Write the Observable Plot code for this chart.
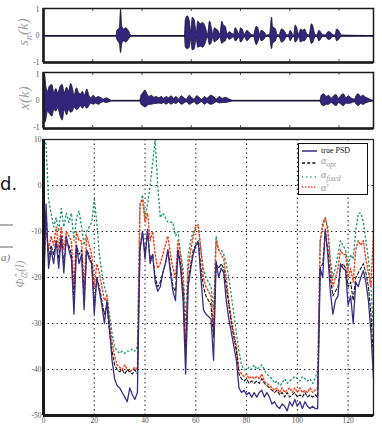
<!DOCTYPE html>
<html><head><meta charset="utf-8">
<script src="https://cdn.jsdelivr.net/npm/d3@7"></script>
<script src="https://cdn.jsdelivr.net/npm/@observablehq/plot@0.6"></script>
<style>
html,body{margin:0;padding:0;background:#fff;}
#wrap{position:relative;width:382px;height:424px;overflow:hidden;font-family:"Liberation Serif","DejaVu Serif",serif;}
.p{position:absolute;left:0;}
.rot{position:absolute;transform:translate(-50%,-50%) rotate(-90deg);white-space:nowrap;color:#a0a0a0;font-style:italic;font-family:"Liberation Serif","DejaVu Serif",serif;}
.abs{position:absolute;white-space:nowrap;}
#legend{position:absolute;left:298px;top:143px;width:68px;height:50px;border:1.6px solid #111;background:#fff;}
#legend .t{position:absolute;left:22px;font-size:8px;color:#111;}
#legend .a{position:absolute;left:22px;font-size:10px;color:#9a9a9a;font-style:italic;}
#legend .a sub{font-size:7.5px;}
</style></head><body><div id="wrap"></div>
<script>
// ---------- data ----------
// lag axis of the PSD panel
const lags = d3.range(0, 131);
const xTicks = [0, 20, 40, 60, 80, 100, 120];
const yTicks = [10, 0, -10, -20, -30, -40, -50];
const xGrid = [20, 40, 60, 80, 100, 120];
const yGrid = [0, -10, -20, -30, -40];
const waveTicks = [10, 20, 30, 40, 50, 60];
const waveYTicks = [-1, 0, 1];

// true PSD
const truePSD = [-25,-4,-18,-14,-17,-12,-18,-11,-19,-11,-14,-16,-28,-13,-17,-15,-27,-14,-16,-17,
  -28,-20,-23,-26,-30,-25,-31,-38,-42,-43.5,-44,-45,-46,-47,-44,-45.5,-46.5,-45,-14,-10,
  -16,-9.5,-17,-15,-21,-23,-22,-19,-17,-14,-19,-23,-25,-14,-18,-25,-41,-22,-18,-15,
  -13,-12.5,-20,-27,-28,-28.5,-29,-38,-16.5,-20,-18,-19,-25,-29,-32,-35,-38,-44,-45,-44.5,
  -45.5,-45,-46,-45,-46,-45,-44.5,-46,-45,-46,-47.5,-47,-48,-48.5,-47.5,-48,-49,-47,-48,-46.5,
  -48,-47,-48.5,-47,-48,-48.5,-48,-48.5,-48.5,-18,-20,-9.5,-15,-23,-28,-25,-24,-17,-18,-18.5,
  -26,-24,-30,-21,-22,-20,-18.5,-21,-25,-32,-42];
// alpha_opt
const alphaOpt = [-22,-6,-16,-13,-15,-12,-16,-11,-17,-12,-13,-15,-25,-13,-15,-14,-25,-14,-15,-17,
  -26,-20,-22,-25,-28,-26,-32,-36,-39,-40,-40.5,-40,-41,-40,-40.5,-41,-40,-41,-14,-10,
  -15,-10,-16,-15,-20,-22,-21,-19,-17,-14,-18,-22,-23,-14,-17,-23,-37,-21,-17,-14,
  -13,-12,-18,-22,-24,-25,-26,-33,-17,-18,-17,-18,-22,-26,-30,-33,-36,-41,-42,-42.5,
  -42,-43,-42.5,-43,-42.5,-43,-42,-43,-43.5,-44,-44.5,-45,-44.5,-45.5,-45,-46,-45,-46,-45.5,-45,
  -46,-45.5,-46,-45,-46,-45.5,-46,-45.5,-46,-18,-17,-10,-14,-20,-24,-23,-22,-18,-17,-18,
  -22,-21,-25,-20,-19,-18,-17,-19,-22,-28,-38];
// alpha_fixed
const alphaFixed = [10,9,-3,-6,-9,-7,-10,-5,-9,-6,-8,-6,-12,-7,-5.5,-9,-13,-10,-9,-8,
  -3,-8,-15,-19,-22,-24,-28,-32,-35,-36,-36.5,-36,-36.5,-36,-36,-35.5,-36,-35,-5,-2,
  -7,-4,0,5,10,0,-7,-6,-7,-8,-8,-8,-11,-10,-15,-18,-30,-15,-12,-10,
  -9,-9,-14,-18,-20,-21,-22,-27,-11,-14,-14,-15,-17,-20,-24,-28,-32,-36,-39,-40,
  -40,-39.5,-40,-39,-40,-39.5,-39,-40,-41,-41.5,-42,-43,-42.5,-43.5,-43,-42,-43,-42.5,-42,-41.5,
  -42,-42.5,-41.5,-42,-42.5,-42,-43,-42,-40,-12,-8,-7,-9,-16,-20,-18,-15,-12,-13,-14,
  -18,-15,-16,-10,-6,-6,-8,-12,-16,-22,-32];
// alpha'
const alphaPrime = [-10,-10,-14,-11,-13,-9,-14,-9,-14,-10,-11,-12,-22,-10,-12,-12,-22,-11,-13,-15,
  -22,-17,-19,-22,-25,-24,-30,-34,-37,-39,-39.5,-40,-39,-40,-40.5,-40,-39.5,-40,-4,-3,
  -8,-6,-12,-10,-15,-18,-17,-15,-13,-11,-15,-18,-20,-12,-15,-20,-35,-18,-14,-11,
  -9,-8.5,-14,-20,-22,-23,-24,-31,-12,-14,-15,-16,-20,-25,-29,-32,-35,-40,-41,-41.5,
  -41,-42,-41.5,-42,-41.5,-42,-41,-42.5,-43,-43.5,-44,-44.5,-44,-45,-44,-45,-44.5,-44,-45,-44,
  -45,-44,-45,-44.5,-45,-44,-45,-44.5,-44,-12,-9,-7,-10,-17,-22,-20,-18,-14,-15,-15,
  -20,-18,-21,-14,-12,-13,-12,-16,-19,-22,-10];

// s_n(k) envelope (sample index in 10^3, upper and lower amplitude)
const snK  = [0,14.8,15.0,15.5,15.75,16.0,16.4,16.8,17.3,17.9,28.7,28.9,29.3,29.7,30.0,30.3,30.7,31.1,31.4,31.9,32.4,32.9,33.4,33.8,34.2,34.5,34.8,35.1,35.5,35.9,36.3,36.6,37.0,37.4,37.8,38.2,38.7,39.0,39.4,39.8,40.1,40.4,40.9,41.4,41.7,42.2,42.7,43.3,43.6,44.0,44.3,44.8,45.4,46.0,46.4,46.6,46.9,47.2,47.5,47.9,48.4,48.9,49.4,49.8,50.2,50.5,50.9,51.2,51.5,51.9,52.3,52.7,53.1,53.6,54.0,54.5,54.8,55.2,55.6,56.0,56.3,56.7,57.3,57.9,58.4,58.9,59.3,59.6,60.0,60.6,67];
const snUp = [0,0,0.2,0.3,1.0,0.35,0.25,0.3,0.2,0,0,0.6,0.75,0.55,0.15,0.7,0.6,0.1,0.55,0.45,0.5,0.35,0.05,0.55,0.3,0.05,0.3,0.25,0.2,0.05,0.55,0.4,0.35,0.05,0.15,0.1,0.05,0.3,0.2,0.05,0.3,0.25,0.05,0.2,0.15,0.05,0.02,0.35,0.3,0.05,0.2,0.15,0.02,0.05,0.7,0.35,0.3,0.25,0.05,0.02,0.25,0.2,0.05,0.02,0.2,0.1,0.02,0.4,0.3,0.05,0.25,0.2,0.25,0.05,0.02,0.45,0.35,0.05,0.02,0.2,0.15,0.05,0.02,0.15,0.12,0.03,0.02,0.25,0.2,0.02,0];
const snLo = [0,0,-0.15,-0.3,-0.65,-0.3,-0.2,-0.25,-0.15,0,0,-0.45,-0.5,-0.45,-0.1,-0.55,-0.5,-0.1,-0.45,-0.4,-0.45,-0.3,-0.05,-0.35,-0.25,-0.05,-0.25,-0.2,-0.15,-0.05,-0.3,-0.25,-0.2,-0.05,-0.15,-0.1,-0.05,-0.2,-0.15,-0.05,-0.25,-0.2,-0.05,-0.2,-0.15,-0.05,-0.02,-0.35,-0.25,-0.05,-0.2,-0.15,-0.02,-0.05,-0.5,-0.3,-0.25,-0.2,-0.05,-0.02,-0.25,-0.2,-0.05,-0.02,-0.2,-0.1,-0.02,-0.25,-0.2,-0.05,-0.25,-0.2,-0.2,-0.05,-0.02,-0.3,-0.25,-0.05,-0.02,-0.2,-0.15,-0.05,-0.02,-0.15,-0.12,-0.03,-0.02,-0.2,-0.15,-0.02,0];

// x(k) envelope
const xkK  = [0,0.1,0.3,0.6,0.9,1.3,1.8,2.2,2.6,3.0,3.5,3.9,4.3,4.8,5.2,5.6,6.0,6.3,6.8,7.2,7.6,8.0,8.4,8.9,9.3,9.7,10.2,10.7,11.2,11.8,12.3,12.8,13.4,13.9,
  19.6,19.9,20.3,20.7,21.1,21.5,22.0,22.5,23.0,23.5,24.0,24.5,25.0,25.5,26.0,26.5,27.0,27.5,28.1,28.6,29.1,29.7,30.2,30.7,31.2,31.7,32.2,32.8,33.3,34.0,34.6,35.2,35.8,36.4,37.0,37.8,38.6,
  56.2,56.5,57.0,57.5,58.0,58.5,59.0,59.5,60.0,60.5,61.0,61.5,62.0,62.5,63.2,63.6,64.0,64.5,65.0,65.5,66.0,66.5,67];
const xkUp = [0,0.9,1.0,0.5,0.35,0.55,0.6,0.3,0.45,0.3,0.55,0.6,0.3,0.5,0.35,0.65,0.45,0.2,0.48,0.3,0.25,0.35,0.2,0.43,0.2,0.1,0.2,0.1,0.15,0.1,0.05,0.1,0.05,0,
  0,0.2,0.3,0.4,0.25,0.15,0.2,0.12,0.15,0.1,0.15,0.08,0.15,0.1,0.18,0.08,0.15,0.05,0.18,0.1,0.05,0.2,0.1,0.05,0.18,0.12,0.05,0.15,0.08,0.2,0.15,0.05,0.15,0.08,0.12,0.05,0,
  0,0.2,0.25,0.15,0.2,0.08,0.18,0.22,0.08,0.2,0.25,0.1,0.18,0.1,0.05,0.2,0.25,0.15,0.2,0.12,0.08,0.03,0];
const xkLo = [0,-0.6,-0.85,-0.7,-0.4,-0.5,-0.6,-0.35,-0.4,-0.3,-0.6,-0.75,-0.35,-0.55,-0.35,-0.45,-0.4,-0.25,-0.35,-0.3,-0.2,-0.3,-0.2,-0.3,-0.2,-0.1,-0.15,-0.1,-0.15,-0.08,-0.05,-0.08,-0.05,0,
  0,-0.15,-0.2,-0.25,-0.2,-0.15,-0.15,-0.12,-0.12,-0.1,-0.12,-0.08,-0.15,-0.08,-0.15,-0.08,-0.12,-0.05,-0.15,-0.1,-0.05,-0.15,-0.1,-0.05,-0.15,-0.1,-0.05,-0.15,-0.08,-0.15,-0.12,-0.05,-0.1,-0.08,-0.08,-0.05,0,
  0,-0.15,-0.2,-0.15,-0.15,-0.08,-0.15,-0.2,-0.08,-0.15,-0.2,-0.1,-0.12,-0.1,-0.05,-0.15,-0.2,-0.12,-0.15,-0.1,-0.06,-0.03,0];

// ---------- drawing ----------
const wrap = document.getElementById("wrap");
const baseStyle = {fontFamily:"Liberation Serif, DejaVu Serif, serif", fontSize:"7.5px", color:"#555", background:"transparent", overflow:"visible"};

function place(el, top) { el.classList.add("p"); el.style.top = top + "px"; wrap.appendChild(el); }

function wavePlot(k, up, lo, yDomain, mt, mb) {
  const rows = k.map((kk, i) => ({k: kk, up: up[i], lo: lo[i]}));
  const H = 70, inner = H - mt - mb;
  return Plot.plot({
    width: 382, height: H, marginLeft: 43, marginRight: 9, marginTop: mt, marginBottom: mb,
    style: baseStyle,
    x: {domain: [0, 67], axis: null},
    y: {domain: yDomain, ticks: waveYTicks, tickSize: 0, tickPadding: 4, tickFormat: d => String(d), label: null},
    marks: [
      Plot.ruleY([0], {stroke: "#1b1340", strokeWidth: 1.3}),
      Plot.areaY(rows, {x: "k", y1: "lo", y2: "up", fill: "#33267a", stroke: "#15122e", strokeWidth: 0.8, curve: "monotone-x"}),
      Plot.ruleX(waveTicks, {stroke: "#333", strokeWidth: 0.8, insetBottom: inner - 3}),
      Plot.ruleX(waveTicks, {stroke: "#333", strokeWidth: 0.8, insetTop: inner - 3}),
      Plot.frame({stroke: "#1a1a1a", strokeWidth: 1.5}),
      Plot.ruleX([0], {stroke: "#1a1a1a", strokeWidth: 2.5}),
      Plot.ruleY([yDomain[0]], {stroke: "#1a1a1a", strokeWidth: 2.5})
    ]
  });
}

place(wavePlot(snK, snUp, snLo, [-1.01, 1.05], 8, 8), 0);
place(wavePlot(xkK, xkUp, xkLo, [-1.05, 1.08], 8, 6), 64);

const rows = lags.map((l, i) => ({l, tp: truePSD[i], ao: alphaOpt[i], af: alphaFixed[i], ar: alphaPrime[i]}));
const main = Plot.plot({
  width: 382, height: 293, marginLeft: 43, marginRight: 9, marginTop: 8, marginBottom: 9,
  style: baseStyle,
  x: {domain: [0, 130], ticks: xTicks, tickSize: 0, tickPadding: 2, tickFormat: d => String(d), label: null},
  y: {domain: [-50, 10], ticks: yTicks, tickSize: 0, tickPadding: 2, tickFormat: d => String(d), label: null},
  marks: [
    Plot.ruleX(xGrid, {stroke: "#222", strokeWidth: 1, strokeDasharray: "1.5,3"}),
    Plot.ruleY(yGrid, {stroke: "#222", strokeWidth: 1, strokeDasharray: "1.5,3"}),
    Plot.lineY(rows, {x: "l", y: "af", stroke: "#1f9a72", strokeWidth: 1.4, strokeDasharray: "1.2,3", clip: true}),
    Plot.lineY(rows, {x: "l", y: "ar", stroke: "#ff3b14", strokeWidth: 1.4, strokeDasharray: "1.5,2.2", clip: true}),
    Plot.lineY(rows, {x: "l", y: "ao", stroke: "#111", strokeWidth: 1.1, strokeDasharray: "3,2.2", clip: true}),
    Plot.lineY(rows, {x: "l", y: "tp", stroke: "#3b2b87", strokeWidth: 1.3, clip: true}),
    Plot.frame({stroke: "#222", strokeWidth: 1.3}),
    Plot.ruleX([0], {stroke: "#1a1a1a", strokeWidth: 3}),
    Plot.ruleY([-50], {stroke: "#1a1a1a", strokeWidth: 3})
  ]
});
place(main, 131);

// ---------- annotations ----------
function addHTML(html) { const d = document.createElement("div"); d.innerHTML = html; while (d.firstChild) wrap.appendChild(d.firstChild); }
addHTML('<div class="rot" style="left:24px;top:32px;font-size:15px;">s<sub style="font-size:10px">n</sub>(k)</div>');
addHTML('<div class="rot" style="left:24px;top:98px;font-size:15px;">x(k)</div>');
addHTML('<div class="rot" style="left:21px;top:274px;font-size:12px;">&Phi;&#770;<sub style="font-size:8px">&xi;&#771;&xi;&#771;</sub>(l)</div>');
addHTML('<div class="abs" style="left:0px;top:173px;font-size:18px;font-family:\'DejaVu Sans\',sans-serif;color:#111;">d.</div>');
addHTML('<div class="abs" style="left:0;top:224px;width:13px;height:2px;background:#b0b0b0;"></div>');
addHTML('<div class="abs" style="left:0;top:246px;width:13px;height:2px;background:#b0b0b0;"></div>');
addHTML('<div class="abs" style="left:1px;top:251px;font-size:11px;font-style:italic;color:#777;">a)</div>');

addHTML(`<div id="legend">
<svg width="68" height="50" style="position:absolute;left:0;top:0;overflow:visible">
<line x1="3" x2="18" y1="7" y2="7" stroke="#3b2b87" stroke-width="1.5"/>
<line x1="3" x2="18" y1="19" y2="19" stroke="#111" stroke-width="1.3" stroke-dasharray="3,2.2"/>
<line x1="3" x2="18" y1="33" y2="33" stroke="#1f9a72" stroke-width="1.4" stroke-dasharray="1.2,3"/>
<line x1="3" x2="18" y1="43" y2="43" stroke="#ff3b14" stroke-width="1.4" stroke-dasharray="1.5,1.5"/>
</svg>
<span class="t" style="top:2px">true PSD</span>
<span class="a" style="top:11px">&alpha;<sub>opt</sub></span>
<span class="a" style="top:25px">&alpha;<sub>fixed</sub></span>
<span class="a" style="top:38px">&alpha;&#8242;</span>
</div>`);
</script></body></html>
